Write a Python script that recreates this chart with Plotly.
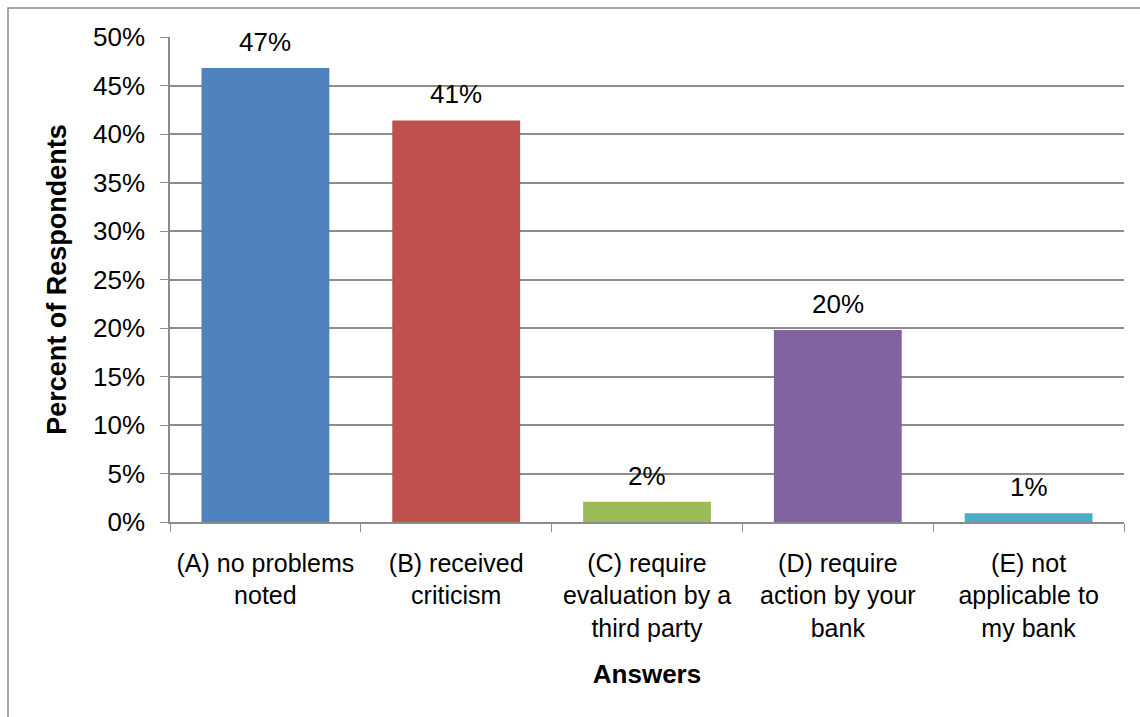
import plotly.graph_objects as go

categories = ["(A) no problems<br>noted", "(B) received<br>criticism",
              "(C) require<br>evaluation by a<br>third party",
              "(D) require<br>action by your<br>bank", "(E) not<br>applicable to<br>my bank"]
values = [46.8, 41.4, 2.1, 19.8, 0.9]
labels = ["47%", "41%", "2%", "20%", "1%"]
colors = ["#4F81BD", "#C0504D", "#9BBB59", "#8064A2", "#4BACC6"]
yticks = [0, 5, 10, 15, 20, 25, 30, 35, 40, 45, 50]
ytick_text = [f"{v}%" for v in yticks]

W, H = 1140, 717
L, R, T, B = 170, 16, 37, 195
FONT = "Liberation Sans, Arial, sans-serif"
GRID = "#8c8c8c"

fig = go.Figure()
fig.add_trace(go.Bar(x=categories, y=values, marker=dict(color=colors, line=dict(width=0)),
                     hoverinfo="skip"))

for c, v, t in zip(categories, values, labels):
    fig.add_annotation(x=c, y=v, text=t, showarrow=False, yanchor="bottom", yshift=9,
                       font=dict(family=FONT, size=26, color="#000"))

# outer frame (in pixel terms converted to paper coords)
pw, ph = W - L - R, H - T - B
def px_x(p):
    return (p - L) / pw
def px_y(p):
    return (H - B - p) / ph
fig.add_shape(type="rect", xref="paper", yref="paper",
              x0=px_x(8), x1=px_x(W + 20), y0=px_y(H + 20), y1=px_y(8),
              line=dict(color="#8a8a8a", width=1.5), layer="below")

fig.update_layout(
    width=W, height=H,
    margin=dict(l=L, r=R, t=T, b=B),
    paper_bgcolor="white", plot_bgcolor="white",
    bargap=0.33, showlegend=False,
    font=dict(family=FONT, size=26, color="#000"),
    xaxis=dict(type="category", tickson="boundaries", ticks="outside", ticklen=8,
               tickcolor=GRID, showline=True, linecolor=GRID, linewidth=1.5,
               showgrid=False, ticklabelstandoff=18,
               tickfont=dict(size=25, family=FONT, color="#000"),
               title=dict(text="<b>Answers</b>", font=dict(size=26, family=FONT), standoff=24)),
    yaxis=dict(range=[0, 50], tickvals=yticks, ticktext=ytick_text, ticks="outside",
               ticklen=8, tickcolor=GRID, showline=True, linecolor=GRID, linewidth=1.5,
               showgrid=True, gridcolor=GRID, gridwidth=1.5, zeroline=False,
               ticklabelstandoff=10,
               tickfont=dict(size=26, family=FONT, color="#000"),
               title=dict(text="<b>Percent of Respondents</b>", font=dict(size=27, family=FONT),
                          standoff=19)),
)

fig.write_html("out.html")
